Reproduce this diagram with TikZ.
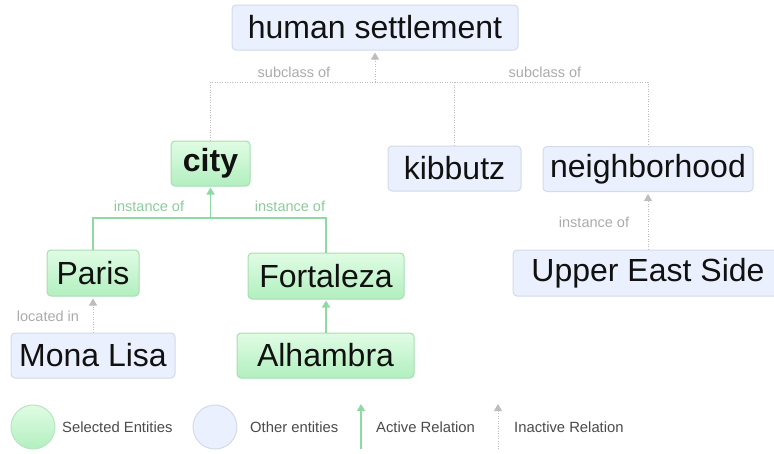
\documentclass[tikz,border=0pt]{standalone}
\usepackage{fontspec}
\setmainfont{Liberation Sans}
\usetikzlibrary{arrows.meta}
\definecolor{bluefill}{HTML}{EAF0FD}
\definecolor{blueborder}{HTML}{D3DAE8}
\definecolor{greentop}{HTML}{E0FCE4}
\definecolor{greenbot}{HTML}{B2EFBF}
\definecolor{greenborder}{HTML}{A8DDB4}
\definecolor{activeline}{HTML}{8FD9A3}
\definecolor{inactiveline}{HTML}{BDBDBD}
\definecolor{greylabel}{HTML}{ABABAB}
\definecolor{greenlabel}{HTML}{8CCB9C}
\definecolor{legendtext}{HTML}{4A4A4A}
\definecolor{entitytext}{HTML}{111111}
\tikzset{
  entity/.style={draw=blueborder, fill=bluefill, rounded corners=4pt, line width=1pt,
    minimum height=45pt, inner sep=0pt, text=entitytext, font=\fontsize{32}{32}\selectfont},
  selected/.style={entity, draw=greenborder, top color=greentop, bottom color=greenbot},
  inactive/.style={draw=inactiveline, line width=1pt, dash pattern=on 1pt off 1.5pt},
  inactivearrow/.style={inactive, -{Triangle[width=8pt,length=7pt]}, shorten >=2pt},
  active/.style={draw=activeline, line width=1.5pt},
  activearrow/.style={active, -{Triangle[width=8pt,length=7pt]}, shorten >=1pt},
  glabel/.style={text=greylabel, font=\fontsize{14.5}{14.5}\selectfont, inner sep=0pt},
  alabel/.style={text=greenlabel, font=\fontsize{14.5}{14.5}\selectfont, inner sep=0pt},
  legtext/.style={text=legendtext, font=\fontsize{14.8}{14.8}\selectfont, inner sep=0pt, anchor=west},
  legcircle/.style={circle, line width=1pt, minimum size=44pt, inner sep=0pt},
}
\begin{document}
\begin{tikzpicture}[x=1pt, y=-1pt]
\clip (0,0) rectangle (774,453);
% entities
\node[entity, minimum width=286pt] (hs) at (375,27.5) {human settlement};
\node[selected, minimum width=79pt, font=\fontsize{32}{32}\selectfont\bfseries] (city) at (210.5,163.5) {city};
\node[entity, minimum width=133pt] (kib) at (454.5,168.5) {kibbutz};
\node[entity, minimum width=210pt] (nb) at (648,169) {neighborhood};
\node[selected, minimum width=92pt, minimum height=46pt] (paris) at (93,273) {Paris};
\node[selected, minimum width=156pt, minimum height=46pt] (fort) at (326,276) {Fortaleza};
\node[entity, minimum width=164pt] (mona) at (93,355.5) {Mona Lisa};
\node[selected, minimum width=177pt] (alh) at (325.5,355.5) {Alhambra};
\node[entity, minimum width=270pt, minimum height=46pt] (ues) at (648,273) {Upper East Side};
% subclass of
\coordinate (hsj) at (375,82);
\draw[inactive] (city.north) -- (city.north |- hsj) -- (nb.north |- hsj) -- (nb.north);
\draw[inactive] (kib.north) -- (kib.north |- hsj);
\draw[inactivearrow] (hsj) -- (hs.south);
\node[glabel] (sc1) at (294,72) {subclass of};
\node[glabel] (sc2) at (545,72) {subclass of};
% instance of city
\coordinate (cj) at (210.5,218);
\draw[active] (paris.north) -- (paris.north |- cj) -- (fort.north |- cj) -- (fort.north);
\draw[activearrow] (cj) -- (city.south);
\node[alabel] (io1) at (149,206) {instance of};
\node[alabel] (io2) at (290,206) {instance of};
% Alhambra -> Fortaleza
\draw[activearrow] (alh.north -| fort.north) -- (fort.south);
% Mona Lisa -> Paris
\draw[inactivearrow] (mona.north) -- (paris.south);
\node[glabel] (li) at (48,316) {located in};
% UES -> neighborhood
\draw[inactivearrow] (ues.north) -- (nb.south);
\node[glabel] (io3) at (594,222) {instance of};
% legend
\node[legcircle, draw=greenborder!80, top color=greentop, bottom color=greenbot] (lg1) at (33,427) {};
\node[legtext] (lt1) at (62,427) {Selected Entities};
\node[legcircle, draw=blueborder, fill=bluefill] (lg2) at (215,427) {};
\node[legtext] (lt2) at (250,427) {Other entities};
\coordinate (la1) at (361,449);
\coordinate (la2) at (361,404);
\draw[activearrow, line width=1.2pt, shorten >=0pt] (la1) -- (la2);
\node[legtext] (lt3) at (376,427) {Active Relation};
\coordinate (li1) at (498,449);
\coordinate (li2) at (498,404);
\draw[inactivearrow, shorten >=0pt] (li1) -- (li2);
\node[legtext] (lt4) at (514,427) {Inactive Relation};
\end{tikzpicture}
\end{document}
